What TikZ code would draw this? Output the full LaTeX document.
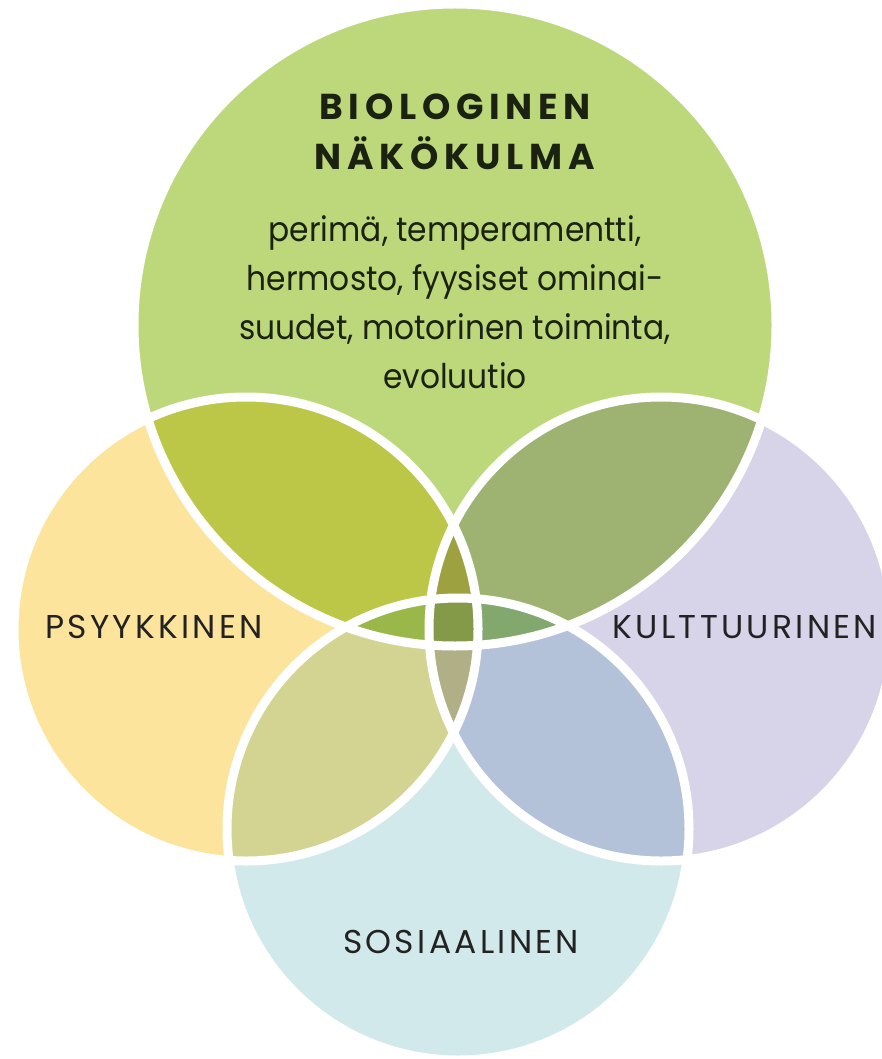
\documentclass[tikz,border=0pt]{standalone}
\usepackage{fontspec}
\setmainfont{Poppins}
\newfontfamily\headfont[LetterSpace=16]{Poppins}
\newfontfamily\bodyfont[FakeStretch=0.92]{Poppins}
\newfontfamily\labelfont[LetterSpace=10]{Poppins}
\usetikzlibrary{positioning}
\definecolor{fg}{HTML}{1B2212}
\definecolor{fglbl}{HTML}{222222}
\definecolor{cbio}{HTML}{BDD87A}
\definecolor{cpsy}{HTML}{FDE49C}
\definecolor{ckul}{HTML}{D7D3E8}
\definecolor{csos}{HTML}{D2E9EB}
\definecolor{cbiopsy}{HTML}{BDC747}
\definecolor{cbiokul}{HTML}{9EB272}
\definecolor{csospsy}{HTML}{D4D492}
\definecolor{csoskul}{HTML}{B3C2D8}
\definecolor{cpsykulbio}{HTML}{9EA140}
\definecolor{cpsykulsos}{HTML}{B0AF86}
\definecolor{cbiosospsy}{HTML}{9AB84A}
\definecolor{cbiososkul}{HTML}{82A86E}
\definecolor{call}{HTML}{849A48}
\newcommand{\rbio}{321}
\newcommand{\rpsy}{232}
\newcommand{\rkul}{232}
\newcommand{\rsos}{231}

\begin{document}
\begin{tikzpicture}[
  x=1pt, y=-1pt,
  rim/.style={draw=white, line width=9pt},
  head/.style={text=fg, align=center, anchor=base, font=\headfont\bfseries\fontsize{36}{50}\selectfont},
  body/.style={text=fg, align=center, anchor=base, font=\bodyfont\fontsize{34}{48.7}\selectfont},
  lbl/.style={text=fglbl, anchor=base, font=\labelfont\fontsize{33}{38}\selectfont},
]
\useasboundingbox (0,0) rectangle (882,1059);
% circle centres
\coordinate (bio) at (455,325);
\coordinate (psy) at (246,629);
\coordinate (kul) at (661,629);
\coordinate (sos) at (458,829);
% single circles
\fill[cbio] (bio) circle[radius=\rbio];
\fill[cpsy] (psy) circle[radius=\rpsy];
\fill[ckul] (kul) circle[radius=\rkul];
\fill[csos] (sos) circle[radius=\rsos];
% pairs
\begin{scope}
  \clip (bio) circle[radius=\rbio];
  \fill[cbiopsy] (psy) circle[radius=\rpsy];
  \fill[cbiokul] (kul) circle[radius=\rkul];
\end{scope}
\begin{scope}
  \clip (sos) circle[radius=\rsos];
  \fill[csospsy] (psy) circle[radius=\rpsy];
  \fill[csoskul] (kul) circle[radius=\rkul];
\end{scope}
% triples
\begin{scope}
  \clip (psy) circle[radius=\rpsy];
  \clip (kul) circle[radius=\rkul];
  \fill[cpsykulbio] (bio) circle[radius=\rbio];
  \fill[cpsykulsos] (sos) circle[radius=\rsos];
\end{scope}
\begin{scope}
  \clip (bio) circle[radius=\rbio];
  \clip (sos) circle[radius=\rsos];
  \fill[cbiosospsy] (psy) circle[radius=\rpsy];
  \fill[cbiososkul] (kul) circle[radius=\rkul];
  % all four
  \clip (psy) circle[radius=\rpsy];
  \fill[call] (kul) circle[radius=\rkul];
\end{scope}
% white rims
\draw[rim] (bio) circle[radius=\rbio];
\draw[rim] (psy) circle[radius=\rpsy];
\draw[rim] (kul) circle[radius=\rkul];
\draw[rim] (sos) circle[radius=\rsos];
% texts (base = last line)
\node[head] (biohead) at (455,170) {BIOLOGINEN\\NÄKÖKULMA};
\node[body] (biotext) at (455,388)
  {perimä, temperamentti,\\hermosto, fyysiset ominai-\\suudet, motorinen toiminta,\\evoluutio};
\node[lbl] (psylbl) at (154,638) {PSYYKKINEN};
\node[lbl] (kullbl) at (745,638) {KULTTUURINEN};
\node[lbl] (soslbl) at (461,953) {SOSIAALINEN};
\end{tikzpicture}
\end{document}
